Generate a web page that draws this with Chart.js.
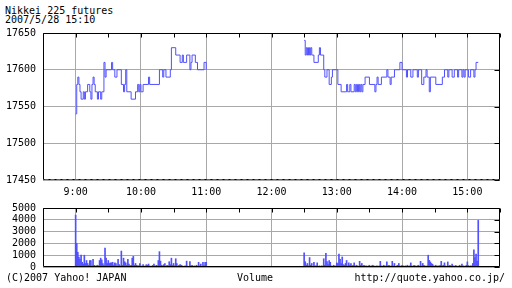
<!DOCTYPE html>
<html lang="ja">
  <head>
    <meta charset="UTF-8" />
    <title>Nikkei 225 futures</title>
    <style>
      body {
        margin: 0;
        width: 512px;
        height: 288px;
        background: #fff;
        position: relative;
        overflow: hidden;
        font-family: "DejaVu Sans Mono", monospace;
        font-size: 10px;
        color: #000;
      }
      .txt { position: absolute; white-space: pre; line-height: 10px; }
      #pc { position: absolute; left: 0; top: 0; }
      #vc { position: absolute; left: 0; top: 195px; }
    </style>
  </head>
  <body>
    <div class="txt" style="left:5px;top:7px;line-height:8.6px">Nikkei 225 futures<br>2007/5/28 15:10</div>
    <canvas id="pc" width="512" height="200"></canvas>
    <canvas id="vc" width="512" height="93"></canvas>
    <div class="txt" style="left:6px;top:273px">(C)2007 Yahoo! JAPAN</div>
    <div class="txt" style="left:237px;top:273px">Volume</div>
    <div class="txt" style="right:7px;top:273px">http://quote.yahoo.co.jp/</div>

    <script src="https://cdn.jsdelivr.net/npm/chart.js@4"></script>
    <script>
      // minutes counted from 9:00
      const hourTicks = [0, 60, 120, 180, 240, 300, 360];
      const hourLabels = ["9:00", "10:00", "11:00", "12:00", "13:00", "14:00", "15:00"];
      const priceTicks = [17450, 17500, 17550, 17600, 17650];
      const volTicks = [0, 1000, 2000, 3000, 4000, 5000];

      // morning session price changes
      const amTimes = [0, 1, 2, 3, 4, 5, 7, 8, 9, 11, 13, 14, 15, 16, 17, 18, 20, 21, 23, 24,
        26, 27, 28, 33, 34, 36, 38, 42, 44, 45, 46, 47, 51, 55, 57, 58, 59, 60, 62, 67,
        68, 77, 80, 81, 83, 87, 88, 92, 96, 98, 99, 102, 105, 106, 107, 110, 112, 118, 120];
      const amPrices = [17540, 17580, 17590, 17580, 17570, 17560, 17570, 17560, 17570, 17580,
        17570, 17560, 17580, 17590, 17580, 17570, 17560, 17570, 17560, 17570,
        17610, 17590, 17600, 17610, 17600, 17590, 17600, 17580, 17570, 17580,
        17600, 17570, 17560, 17570, 17580, 17570, 17580, 17570, 17580, 17590,
        17580, 17600, 17590, 17600, 17590, 17600, 17630, 17620, 17610, 17620,
        17610, 17620, 17600, 17610, 17620, 17610, 17600, 17610, 17600];

      // afternoon session price changes
      const pmTimes = [210, 211, 212, 213, 214, 215, 216, 217, 219, 223, 224, 225, 228, 229, 231,
        233, 235, 236, 241, 244, 249, 250, 252, 253, 256, 257, 258, 259, 260, 261, 262, 263,
        264, 266, 270, 275, 276, 277, 278, 281, 286, 287, 289, 290, 293, 298, 300, 304, 305,
        308, 310, 314, 315, 318, 320, 322, 323, 325, 326, 331, 337, 339, 342, 343, 346, 348,
        351, 352, 355, 356, 357, 358, 361, 363, 366, 367, 368, 370];
      const pmPrices = [17640, 17620, 17630, 17620, 17630, 17620, 17630, 17620, 17610, 17620,
        17630, 17620, 17600, 17590, 17600, 17580, 17590, 17600, 17580, 17570, 17580, 17570,
        17580, 17570, 17580, 17570, 17580, 17570, 17580, 17570, 17580, 17570, 17580, 17590,
        17580, 17570, 17580, 17590, 17580, 17590, 17600, 17590, 17580, 17590, 17600, 17610,
        17600, 17590, 17600, 17590, 17600, 17590, 17600, 17580, 17590, 17600, 17590, 17570,
        17590, 17580, 17590, 17600, 17590, 17600, 17590, 17600, 17590, 17600, 17590, 17600,
        17590, 17600, 17590, 17600, 17590, 17600, 17610, 17610];

      // volume per minute, 9:00-11:00 and 12:30-15:10
      const volAM = [4400, 2000, 1250, 850, 650, 1000, 400, 250, 1000, 300,
        550, 300, 150, 550, 550, 100, 650, 150, 80, 100,
        150, 100, 550, 750, 600, 300, 150, 1600, 750, 300,
        550, 300, 350, 350, 400, 150, 350, 300, 100, 650,
        200, 100, 1350, 150, 750, 450, 350, 150, 650, 250,
        100, 150, 750, 900, 150, 300, 150, 100, 100, 300,
        50, 100, 200, 50, 100, 200, 150, 250, 100, 50,
        80, 150, 250, 50, 150, 100, 550, 1300, 500, 150,
        100, 200, 300, 50, 150, 100, 450, 200, 750, 150,
        300, 100, 700, 300, 50, 150, 200, 150, 100, 50,
        80, 100, 500, 80, 50, 450, 100, 150, 50, 100,
        50, 150, 80, 400, 100, 250, 50, 400, 100, 400,
        400];
      const volPM = [1200, 450, 150, 300, 100, 800, 150, 300, 50, 400,
        100, 100, 350, 50, 100, 50, 100, 80, 700, 150,
        1150, 450, 200, 550, 400, 100, 50, 150, 100, 80,
        350, 300, 1100, 650, 300, 850, 200, 150, 300, 550,
        100, 350, 150, 300, 100, 150, 350, 80, 150, 100,
        50, 480, 150, 300, 100, 150, 80, 100, 50, 100,
        150, 50, 100, 150, 100, 50, 80, 100, 50, 100,
        480, 100, 50, 150, 100, 80, 430, 100, 150, 50,
        100, 480, 100, 300, 50, 100, 150, 300, 100, 50,
        150, 100, 50, 100, 80, 150, 50, 100, 350, 100,
        50, 150, 100, 50, 100, 150, 80, 480, 100, 300,
        150, 100, 50, 100, 1000, 560, 430, 300, 230, 100,
        80, 150, 50, 100, 80, 150, 480, 100, 150, 350,
        100, 50, 430, 100, 150, 80, 250, 100, 50, 130,
        100, 50, 80, 150, 50, 250, 100, 80, 50, 150,
        430, 130, 50, 100, 80, 300, 1450, 800, 1100, 500,
        3950];
      const amStart = 0;
      const pmStart = 210;

      const blue = "#5050ff";
      const grey = "#a8a8a8";

      Chart.defaults.font.family = "'DejaVu Sans Mono', monospace";
      Chart.defaults.font.size = 10;
      Chart.defaults.color = "#000";

      // black frame, small ticks on top and right edges, red line on price chart bottom
      const frame = {
        id: "frame",
        afterDraw(chart) {
          const { ctx, chartArea: a, scales } = chart;
          const L = Math.round(a.left) + 0.5, R = Math.round(a.right) - 0.5;
          const T = Math.round(a.top) + 0.5, B = Math.round(a.bottom) - 0.5;
          ctx.save();
          ctx.strokeStyle = "#000";
          ctx.lineWidth = 1;
          ctx.beginPath();
          ctx.moveTo(L, B); ctx.lineTo(L, T); ctx.lineTo(R, T); ctx.lineTo(R, B); ctx.lineTo(L, B);
          for (let v = -30; v <= 390; v += 30) {
            const x = Math.round(scales.x.getPixelForValue(v)) + 0.5;
            ctx.moveTo(x, T); ctx.lineTo(x, T + 4);
          }
          scales.y.ticks.forEach((t) => {
            const y = Math.round(scales.y.getPixelForValue(t.value)) + 0.5;
            ctx.moveTo(R, y); ctx.lineTo(R - 5, y);
          });
          ctx.stroke();
          if (chart.options.redBase) {
            ctx.strokeStyle = "#ff2020";
            ctx.setLineDash([4, 2]);
            ctx.beginPath();
            ctx.moveTo(L + 1, B); ctx.lineTo(R, B);
            ctx.stroke();
          }
          ctx.restore();
        },
      };

      function xAxis(showLabels, h) {
        return {
          type: "linear",
          min: -30,
          max: 390,
          offset: false,
          afterBuildTicks: (s) => { s.ticks = hourTicks.map((v) => ({ value: v })); },
          afterFit: (s) => { s.height = h; },
          grid: { color: grey, drawTicks: false, offset: false },
          border: { display: false },
          ticks: {
            display: showLabels,
            padding: 6,
            maxRotation: 0,
            autoSkip: false,
            callback: (v, i) => hourLabels[i],
          },
        };
      }

      function yAxis(ticks) {
        return {
          min: ticks[0],
          max: ticks[ticks.length - 1],
          afterBuildTicks: (s) => { s.ticks = ticks.map((v) => ({ value: v })); },
          afterFit: (s) => { s.width = 43; },
          grid: { color: grey, drawTicks: false },
          border: { display: false },
          ticks: { padding: 7, autoSkip: false, callback: (v) => String(v) },
        };
      }

      new Chart(document.getElementById("pc"), {
        type: "line",
        data: {
          datasets: [
            { data: amTimes.map((t, i) => ({ x: t, y: amPrices[i] })) },
            { data: pmTimes.map((t, i) => ({ x: t, y: pmPrices[i] })) },
          ].map((d) => Object.assign(d, {
            borderColor: blue,
            backgroundColor: blue,
            borderWidth: 1,
            pointRadius: 0,
            stepped: true,
          })),
        },
        options: {
          responsive: false,
          animation: false,
          events: [],
          redBase: true,
          layout: { padding: { top: 33, right: 12, left: 0, bottom: 0 } },
          plugins: { legend: { display: false }, tooltip: { enabled: false } },
          scales: { x: xAxis(true, 20), y: yAxis(priceTicks) },
        },
        plugins: [frame],
      });

      new Chart(document.getElementById("vc"), {
        type: "bar",
        data: {
          datasets: [
            {
              data: volAM.map((v, i) => ({ x: amStart + i, y: v }))
                .concat(volPM.map((v, i) => ({ x: pmStart + i, y: v }))),
              backgroundColor: blue,
              borderColor: blue,
              barThickness: 1,
            },
          ],
        },
        options: {
          responsive: false,
          animation: false,
          events: [],
          layout: { padding: { top: 9, right: 12, left: 0, bottom: 0 } },
          plugins: { legend: { display: false }, tooltip: { enabled: false } },
          scales: { x: xAxis(false, 21), y: yAxis(volTicks) },
        },
        plugins: [frame],
      });
    </script>
  </body>
</html>
